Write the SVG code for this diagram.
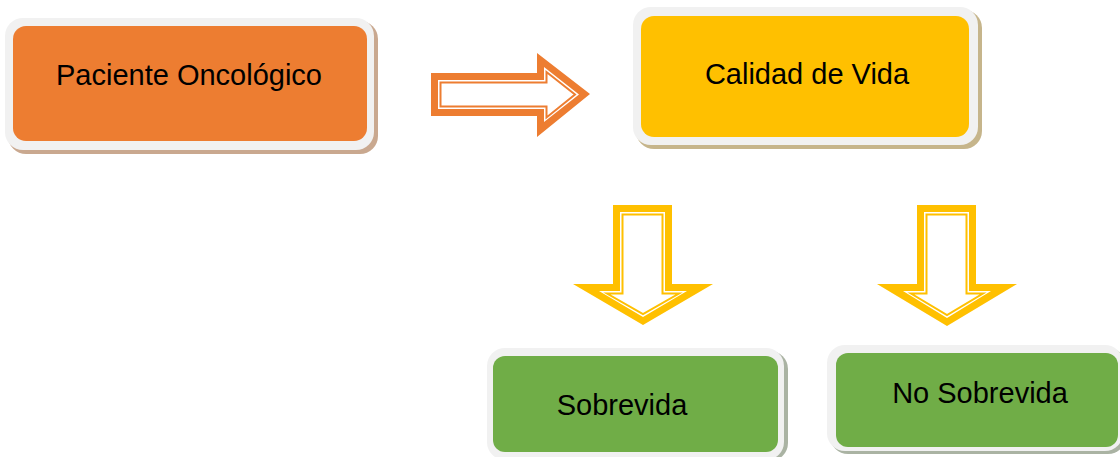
<svg xmlns="http://www.w3.org/2000/svg" width="1120" height="457" viewBox="0 0 1120 457">
<style>
.frame{fill:#f1f1f1}
.lbl{font-family:"Liberation Sans",Arial,sans-serif;font-size:29px;fill:#000;text-anchor:middle}
.or{fill:#ED7D31}
.ye{fill:#FFC000}
.gr{fill:#70AD47}
.gap{fill:#fff}
.lo{fill:#fff;stroke:#ED7D31;stroke-width:2}
.ly{fill:#fff;stroke:#FFC000;stroke-width:2}
</style>
<rect width="1120" height="457" fill="#fff"/>
<g id="node-paciente">
<rect x="8" y="21" width="370" height="133" rx="18" fill="#c9a88f"/>
<rect class="frame" x="5" y="18" width="369" height="132" rx="18"/>
<rect class="or" x="13" y="26" width="354" height="115" rx="13"/>
<text class="lbl" x="189" y="85">Paciente Oncológico</text>
</g>
<g id="node-calidad">
<rect x="636" y="10" width="346" height="139" rx="18" fill="#c6b58b"/>
<rect class="frame" x="633" y="7" width="345" height="138" rx="18"/>
<rect class="ye" x="641" y="16" width="328" height="121" rx="13"/>
<text class="lbl" x="807" y="84">Calidad de Vida</text>
</g>
<g id="node-sobrevida">
<rect x="490" y="351" width="298" height="110" rx="18" fill="#aab3a3"/>
<rect class="frame" x="487" y="348" width="297" height="112" rx="18"/>
<rect class="gr" x="493" y="356" width="285" height="96" rx="12"/>
<text class="lbl" x="622" y="415">Sobrevida</text>
</g>
<g id="node-no-sobrevida">
<rect x="830" y="348" width="296" height="106" rx="18" fill="#aab3a3"/>
<rect class="frame" x="827" y="345" width="296" height="106" rx="18"/>
<rect class="gr" x="836" y="353" width="282" height="94" rx="12"/>
<text class="lbl" x="980" y="403">No Sobrevida</text>
</g>
<g id="connectors">
<g id="arrow-right">
<polygon class="or" points="431,73 537,73 537,53 590,94 537,137 537,116 431,116"/>
<polygon class="gap" points="438,80 544,80 544,67 579,94.5 544,122 544,109 438,109"/>
<polygon class="lo" points="440.5,82.5 546.5,82.5 546.5,72 575,94.5 546.5,117.5 546.5,106.5 440.5,106.5"/>
</g>
<g id="arrow-down-1">
<polygon class="ye" points="613,205 672,205 672,284 713,284 643,325 573,284 613,284"/>
<polygon class="gap" points="620,212 665,212 665,291 687,291 643,317 599,291 620,291"/>
<polygon class="ly" points="622.5,214.5 662.5,214.5 662.5,293.5 679,293.5 643,314 607,293.5 622.5,293.5"/>
</g>
<g id="arrow-down-2">
<polygon class="ye" points="917,205 976,205 976,284 1017,284 947,326 877,284 917,284"/>
<polygon class="gap" points="924,212 969,212 969,291 991,291 947,318 903,291 924,291"/>
<polygon class="ly" points="926.5,214.5 966.5,214.5 966.5,293.5 983,293.5 947,315 911,293.5 926.5,293.5"/>
</g>
</g>
</svg>
